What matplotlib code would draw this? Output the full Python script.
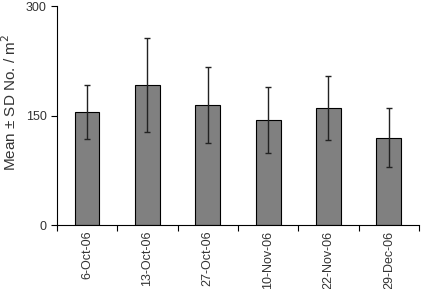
import numpy as np
import matplotlib.pyplot as plt

plt.rcParams['font.family'] = ['Liberation Sans', 'DejaVu Sans']

dates = ['6-Oct-06', '13-Oct-06', '27-Oct-06', '10-Nov-06', '22-Nov-06', '29-Dec-06']
means = [155, 192, 165, 144, 160, 120]
sds = [37, 64, 52, 45, 44, 40]

fig = plt.figure(figsize=(4.28, 2.89), dpi=100)
ax = fig.add_axes([0.133, 0.221, 0.846, 0.758])

x = np.arange(len(dates))
ax.bar(x, means, width=0.41, color='#808080', edgecolor='black', linewidth=0.8,
       yerr=sds, error_kw=dict(ecolor='#222222', elinewidth=1, capsize=2.5, capthick=1))

ax.set_xlim(-0.5, len(dates) - 0.5)
ax.set_ylim(0, 300)
ax.set_yticks([0, 150, 300])
ax.set_xticks(x)
ax.set_xticklabels(dates, rotation=90, fontsize=9, color='#333333')
ax.set_xticks(np.arange(len(dates) + 1) - 0.5, minor=True)
ax.tick_params(axis='x', which='major', length=0, pad=4)
ax.tick_params(axis='x', which='minor', length=4, direction='out', width=0.8)
ax.tick_params(axis='y', labelsize=9, labelcolor='#333333', length=4, width=0.8)
ax.set_ylabel('Mean ± SD No. / m$^2$', fontsize=11, color='#333333', labelpad=4)
ax.yaxis.set_label_coords(-0.105, 0.56)

ax.spines['top'].set_visible(False)
ax.spines['right'].set_visible(False)

fig.savefig('out.png', dpi=100)
